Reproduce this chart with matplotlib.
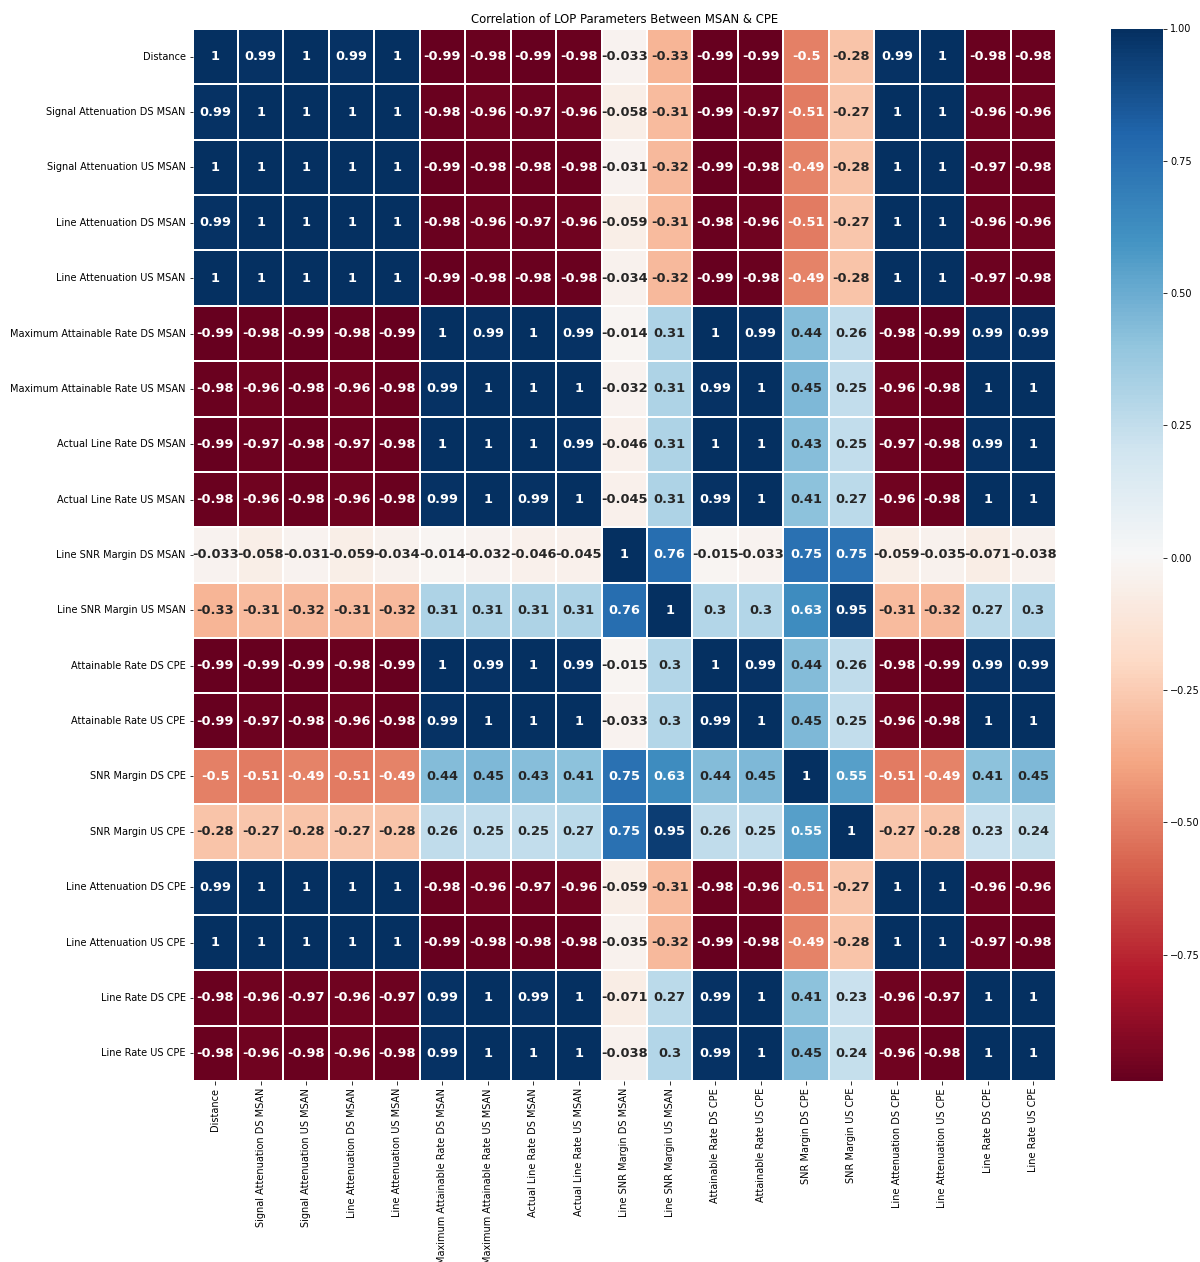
import numpy as np
import pandas as pd
import matplotlib
matplotlib.use("Agg")
import matplotlib.pyplot as plt
import seaborn as sns

labels = [
    "Distance",
    "Signal Attenuation DS MSAN",
    "Signal Attenuation US MSAN",
    "Line Attenuation DS MSAN",
    "Line Attenuation US MSAN",
    "Maximum Attainable Rate DS MSAN",
    "Maximum Attainable Rate US MSAN",
    "Actual Line Rate DS MSAN",
    "Actual Line Rate US MSAN",
    "Line SNR Margin DS MSAN",
    "Line SNR Margin US MSAN",
    "Attainable Rate DS CPE",
    "Attainable Rate US CPE",
    "SNR Margin DS CPE",
    "SNR Margin US CPE",
    "Line Attenuation DS CPE",
    "Line Attenuation US CPE",
    "Line Rate DS CPE",
    "Line Rate US CPE",
]

row_distance     = [1, 0.99, 1, 0.99, 1, -0.99, -0.98, -0.99, -0.98, -0.033, -0.33, -0.99, -0.99, -0.5, -0.28, 0.99, 1, -0.98, -0.98]
row_sig_att_ds   = [0.99, 1, 1, 1, 1, -0.98, -0.96, -0.97, -0.96, -0.058, -0.31, -0.99, -0.97, -0.51, -0.27, 1, 1, -0.96, -0.96]
row_sig_att_us   = [1, 1, 1, 1, 1, -0.99, -0.98, -0.98, -0.98, -0.031, -0.32, -0.99, -0.98, -0.49, -0.28, 1, 1, -0.97, -0.98]
row_line_att_ds  = [0.99, 1, 1, 1, 1, -0.98, -0.96, -0.97, -0.96, -0.059, -0.31, -0.98, -0.96, -0.51, -0.27, 1, 1, -0.96, -0.96]
row_line_att_us  = [1, 1, 1, 1, 1, -0.99, -0.98, -0.98, -0.98, -0.034, -0.32, -0.99, -0.98, -0.49, -0.28, 1, 1, -0.97, -0.98]
row_max_att_ds   = [-0.99, -0.98, -0.99, -0.98, -0.99, 1, 0.99, 1, 0.99, -0.014, 0.31, 1, 0.99, 0.44, 0.26, -0.98, -0.99, 0.99, 0.99]
row_max_att_us   = [-0.98, -0.96, -0.98, -0.96, -0.98, 0.99, 1, 1, 1, -0.032, 0.31, 0.99, 1, 0.45, 0.25, -0.96, -0.98, 1, 1]
row_act_rate_ds  = [-0.99, -0.97, -0.98, -0.97, -0.98, 1, 1, 1, 0.99, -0.046, 0.31, 1, 1, 0.43, 0.25, -0.97, -0.98, 0.99, 1]
row_act_rate_us  = [-0.98, -0.96, -0.98, -0.96, -0.98, 0.99, 1, 0.99, 1, -0.045, 0.31, 0.99, 1, 0.41, 0.27, -0.96, -0.98, 1, 1]
row_snr_ds_msan  = [-0.033, -0.058, -0.031, -0.059, -0.034, -0.014, -0.032, -0.046, -0.045, 1, 0.76, -0.015, -0.033, 0.75, 0.75, -0.059, -0.035, -0.071, -0.038]
row_snr_us_msan  = [-0.33, -0.31, -0.32, -0.31, -0.32, 0.31, 0.31, 0.31, 0.31, 0.76, 1, 0.3, 0.3, 0.63, 0.95, -0.31, -0.32, 0.27, 0.3]
row_att_ds_cpe   = [-0.99, -0.99, -0.99, -0.98, -0.99, 1, 0.99, 1, 0.99, -0.015, 0.3, 1, 0.99, 0.44, 0.26, -0.98, -0.99, 0.99, 0.99]
row_att_us_cpe   = [-0.99, -0.97, -0.98, -0.96, -0.98, 0.99, 1, 1, 1, -0.033, 0.3, 0.99, 1, 0.45, 0.25, -0.96, -0.98, 1, 1]
row_snr_ds_cpe   = [-0.5, -0.51, -0.49, -0.51, -0.49, 0.44, 0.45, 0.43, 0.41, 0.75, 0.63, 0.44, 0.45, 1, 0.55, -0.51, -0.49, 0.41, 0.45]
row_snr_us_cpe   = [-0.28, -0.27, -0.28, -0.27, -0.28, 0.26, 0.25, 0.25, 0.27, 0.75, 0.95, 0.26, 0.25, 0.55, 1, -0.27, -0.28, 0.23, 0.24]
row_line_att_dsc = [0.99, 1, 1, 1, 1, -0.98, -0.96, -0.97, -0.96, -0.059, -0.31, -0.98, -0.96, -0.51, -0.27, 1, 1, -0.96, -0.96]
row_line_att_usc = [1, 1, 1, 1, 1, -0.99, -0.98, -0.98, -0.98, -0.035, -0.32, -0.99, -0.98, -0.49, -0.28, 1, 1, -0.97, -0.98]
row_rate_ds_cpe  = [-0.98, -0.96, -0.97, -0.96, -0.97, 0.99, 1, 0.99, 1, -0.071, 0.27, 0.99, 1, 0.41, 0.23, -0.96, -0.97, 1, 1]
row_rate_us_cpe  = [-0.98, -0.96, -0.98, -0.96, -0.98, 0.99, 1, 1, 1, -0.038, 0.3, 0.99, 1, 0.45, 0.24, -0.96, -0.98, 1, 1]

rows = [
    row_distance, row_sig_att_ds, row_sig_att_us, row_line_att_ds, row_line_att_us,
    row_max_att_ds, row_max_att_us, row_act_rate_ds, row_act_rate_us, row_snr_ds_msan,
    row_snr_us_msan, row_att_ds_cpe, row_att_us_cpe, row_snr_ds_cpe, row_snr_us_cpe,
    row_line_att_dsc, row_line_att_usc, row_rate_ds_cpe, row_rate_us_cpe,
]
corr = pd.DataFrame(np.array(rows), index=labels, columns=labels)

W, H, DPI = 1200, 1262, 72
fig = plt.figure(figsize=(W / DPI, H / DPI), dpi=DPI)
ax = fig.add_axes([192.5 / W, 1 - 1081 / H, 863.5 / W, 1052 / H])
cax = fig.add_axes([1111 / W, 1 - 1081.5 / H, 52 / W, 1053 / H])

sns.heatmap(
    corr, ax=ax, cbar_ax=cax, cmap="RdBu", annot=True,
    annot_kws={"size": 13, "weight": "bold"},
    linewidths=2, linecolor="white",
)
ax.set_title("Correlation of LOP Parameters Between MSAN & CPE", fontsize=11.6)
ax.tick_params(axis="both", labelsize=9.7)
cax.tick_params(labelsize=9.7)

fig.savefig("out.png", dpi=DPI)
